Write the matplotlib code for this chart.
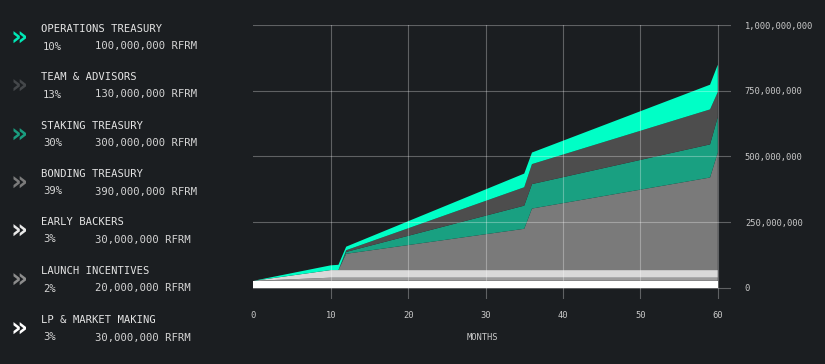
import numpy as np
import matplotlib
matplotlib.use("Agg")
import matplotlib.pyplot as plt
from matplotlib.ticker import FuncFormatter

# unlock schedule (millions of RFRM per allocation)
months = [0, 10, 11, 12, 35, 36, 59, 60]
lp_market = [27, 27, 27, 27, 27, 27, 27, 27]
launch_incentives = [0, 12, 12, 12, 12, 12, 12, 12]
early_backers = [0, 29, 29, 29, 29, 29, 29, 29]
bonding_treasury = [0, 0, 0, 62, 157, 234, 352, 447]
staking_treasury = [0, 0, 0, 7, 88, 93, 126, 135]
team_advisors = [0, 0, 0, 6.5, 70, 76, 133, 95]
operations_treasury = [0, 18, 20, 13.5, 52, 44, 94, 104]

# legend on the left
names = ["OPERATIONS TREASURY", "TEAM & ADVISORS", "STAKING TREASURY", "BONDING TREASURY",
         "EARLY BACKERS", "LAUNCH INCENTIVES", "LP & MARKET MAKING"]
pcts = ["10%", "13%", "30%", "39%", "3%", "2%", "3%"]
amounts = ["100,000,000 RFRM", "130,000,000 RFRM", "300,000,000 RFRM", "390,000,000 RFRM",
           "30,000,000 RFRM", "20,000,000 RFRM", "30,000,000 RFRM"]
chevron_colors = ["#00e8b6", "#44474a", "#1a9e80", "#7b7b7b", "#e8e8e8", "#8c8c8c", "#ffffff"]

y_ticks = [0, 250, 500, 750, 1000]
x_ticks = [0, 10, 20, 30, 40, 50, 60]

BG = "#1b1e21"
MONO = "DejaVu Sans Mono"

fig = plt.figure(figsize=(8.25, 3.64), dpi=100, facecolor=BG)
ax = fig.add_axes([0.307, 0.1786, 0.579, 0.7527])
ax.set_facecolor(BG)

# stacked areas, bottom to top
series = [lp_market, launch_incentives, early_backers, bonding_treasury,
          staking_treasury, team_advisors, operations_treasury]
area_colors = ["#ffffff", "#9c9c9c", "#d9d9d9", "#7a7a7a", "#19a081", "#4d4d4d", "#00ffc6"]
ax.stackplot(months, *[np.array(s) * 1e6 for s in series], colors=area_colors, linewidth=0)

ax.set_xlim(0, 61.7)
ax.set_ylim(-42e6, 1000e6)
ax.set_xticks(x_ticks)
ax.set_yticks([v * 1e6 for v in y_ticks])
ax.yaxis.set_major_formatter(FuncFormatter(lambda v, p: "{:,.0f}".format(v)))
ax.yaxis.tick_right()
ax.tick_params(axis="both", length=0, labelsize=6.3, labelcolor="#c9c9c9")
ax.tick_params(axis="y", pad=10)
ax.tick_params(axis="x", pad=9)
for lbl in ax.get_xticklabels() + ax.get_yticklabels():
    lbl.set_fontfamily(MONO)

ax.grid(True, color="#ffffff", alpha=0.3, linewidth=0.8)
ax.set_axisbelow(False)
# no vertical line at month 0
ax.get_xgridlines()[0].set_visible(False)
for s in ax.spines.values():
    s.set_visible(False)

fig.text(482 / 825, 1 - 338 / 364, "MONTHS", ha="center", va="center",
         fontsize=6.3, color="#c9c9c9", family=MONO)

# left side legend
title_y = [29, 77, 126, 174, 222, 271, 320]
for i in range(len(names)):
    ty = title_y[i]
    fig.text(41 / 825, 1 - ty / 364, names[i], ha="left", va="center",
             fontsize=7.6, color="#e4e4e4", family=MONO)
    fig.text(43 / 825, 1 - (ty + 17.5) / 364, pcts[i], ha="left", va="center",
             fontsize=7.6, color="#d4d4d4", family=MONO)
    fig.text(95 / 825, 1 - (ty + 17.5) / 364, amounts[i], ha="left", va="center",
             fontsize=7.6, color="#d4d4d4", family=MONO)
    fig.text(19 / 825, 1 - (ty + 10) / 364, "»", ha="center", va="center",
             fontsize=19, fontweight="bold", color=chevron_colors[i], family="DejaVu Sans")

fig.savefig("out.png", dpi=100, facecolor=BG)
